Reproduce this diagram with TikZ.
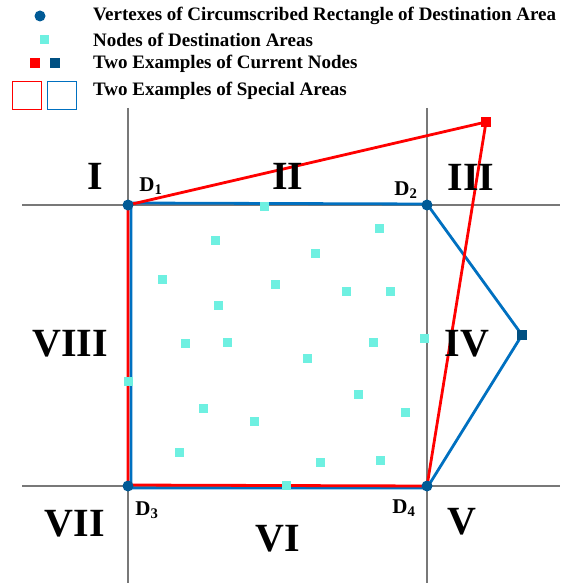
\documentclass[tikz,border=0pt]{standalone}
\usepackage{fontspec}
\setmainfont{Liberation Serif}
\definecolor{vblue}{RGB}{0,90,150}
\definecolor{lblue}{RGB}{0,112,192}
\definecolor{cnode}{RGB}{110,240,225}
\definecolor{bnode}{RGB}{0,80,130}
\definecolor{gline}{RGB}{120,120,120}
\begin{document}
\begin{tikzpicture}[x=1pt,y=-1pt,
  vtx/.style={circle,fill=vblue,inner sep=0pt,minimum size=11pt},
  dst/.style={rectangle,fill=cnode,inner sep=0pt,minimum size=9pt},
  cur/.style={rectangle,inner sep=0pt,minimum size=9.5pt},
  grid/.style={gline,line width=1.3pt},
  redpoly/.style={red,line width=2.8pt,line join=round},
  bluepoly/.style={lblue,line width=2.8pt,line join=round},
  region/.style={font=\fontsize{40}{40}\selectfont\bfseries},
  dlab/.style={font=\fontsize{21}{21}\selectfont\bfseries},
  legtxt/.style={anchor=west,font=\fontsize{19}{19}\selectfont\bfseries,inner sep=0pt}]
\useasboundingbox (0,0) rectangle (568,583);
% grid lines
\coordinate (gv1t) at (128,108); \coordinate (gv1b) at (128,583);
\coordinate (gv2t) at (427,108); \coordinate (gv2b) at (427,583);
\coordinate (gh1l) at (22,205); \coordinate (gh1r) at (560,205);
\coordinate (gh2l) at (22,486); \coordinate (gh2r) at (560,486);
\draw[grid] (gv1t) -- (gv1b);
\draw[grid] (gv2t) -- (gv2b);
\draw[grid] (gh1l) -- (gh1r);
\draw[grid] (gh2l) -- (gh2r);
% current nodes
\coordinate (R) at (486,122);
\coordinate (B) at (522,335);
\coordinate (D1) at (128,205);
\coordinate (D2) at (427,205);
\coordinate (D3) at (128,486);
\coordinate (D4) at (427,486);
% blue special area
\draw[bluepoly] ([xshift=3pt,yshift=2pt]D1) -- ([yshift=1pt]D2) -- (B) -- ([yshift=-2pt]D4) -- ([xshift=3pt,yshift=-2pt]D3) -- cycle;
% red special area
\draw[redpoly] (D1) -- (R) -- (D4) -- ([yshift=1pt]D3) -- cycle;
% destination nodes
\foreach \p [count=\i] in {(264,206),(215,240),(379,228),(315,253),(162,279),(275,284),(218,305),(346,291),(390,291),(185,343),(227,342),(373,342),(424,338),(307,358),(128,381),(358,394),(203,408),(405,412),(254,421),(179,452),(320,462),(380,460),(286,485)}
  \node[dst] (n\i) at \p {};
% vertices
\node[vtx] (v1) at (D1) {};
\node[vtx] (v2) at (D2) {};
\node[vtx] (v3) at (D3) {};
\node[vtx] (v4) at (D4) {};
\node[cur,fill=red] (rn) at (R) {};
\node[cur,fill=bnode] (bn) at (B) {};
% region labels
\node[region] (rI) at (95,176) {I};
\node[region] (rII) at (288,176) {II};
\node[region] (rIII) at (471,177) {III};
\node[region] (rVIII) at (70,344) {VIII};
\node[region] (rIV) at (467,344) {IV};
\node[region] (rVII) at (75,524) {VII};
\node[region] (rVI) at (278,539) {VI};
\node[region] (rV) at (462,522) {V};
% D labels
\node[dlab] (l1) at (151,186) {D\textsubscript{1}};
\node[dlab] (l2) at (406,190) {D\textsubscript{2}};
\node[dlab] (l3) at (147,510) {D\textsubscript{3}};
\node[dlab] (l4) at (404,508) {D\textsubscript{4}};
% legend
\node[vtx] (lg1) at (40,16) {};
\node[dst] (lg2) at (44,40) {};
\node[cur,fill=red] (lg3a) at (35,63) {};
\node[cur,fill=bnode] (lg3b) at (55,63) {};
\node[draw=red,line width=1pt,minimum width=29pt,minimum height=28pt,inner sep=0pt] (lg4a) at (26.5,95.5) {};
\node[draw=lblue,line width=1pt,minimum width=29pt,minimum height=28pt,inner sep=0pt] (lg4b) at (62,95.5) {};
\node[legtxt] (t1) at (93,16) {Vertexes of Circumscribed Rectangle of Destination Area};
\node[legtxt] (t2) at (93,40) {Nodes of Destination Areas};
\node[legtxt] (t3) at (93,64) {Two Examples of Current Nodes};
\node[legtxt] (t4) at (93,91) {Two Examples of Special Areas};
\end{tikzpicture}
\end{document}
